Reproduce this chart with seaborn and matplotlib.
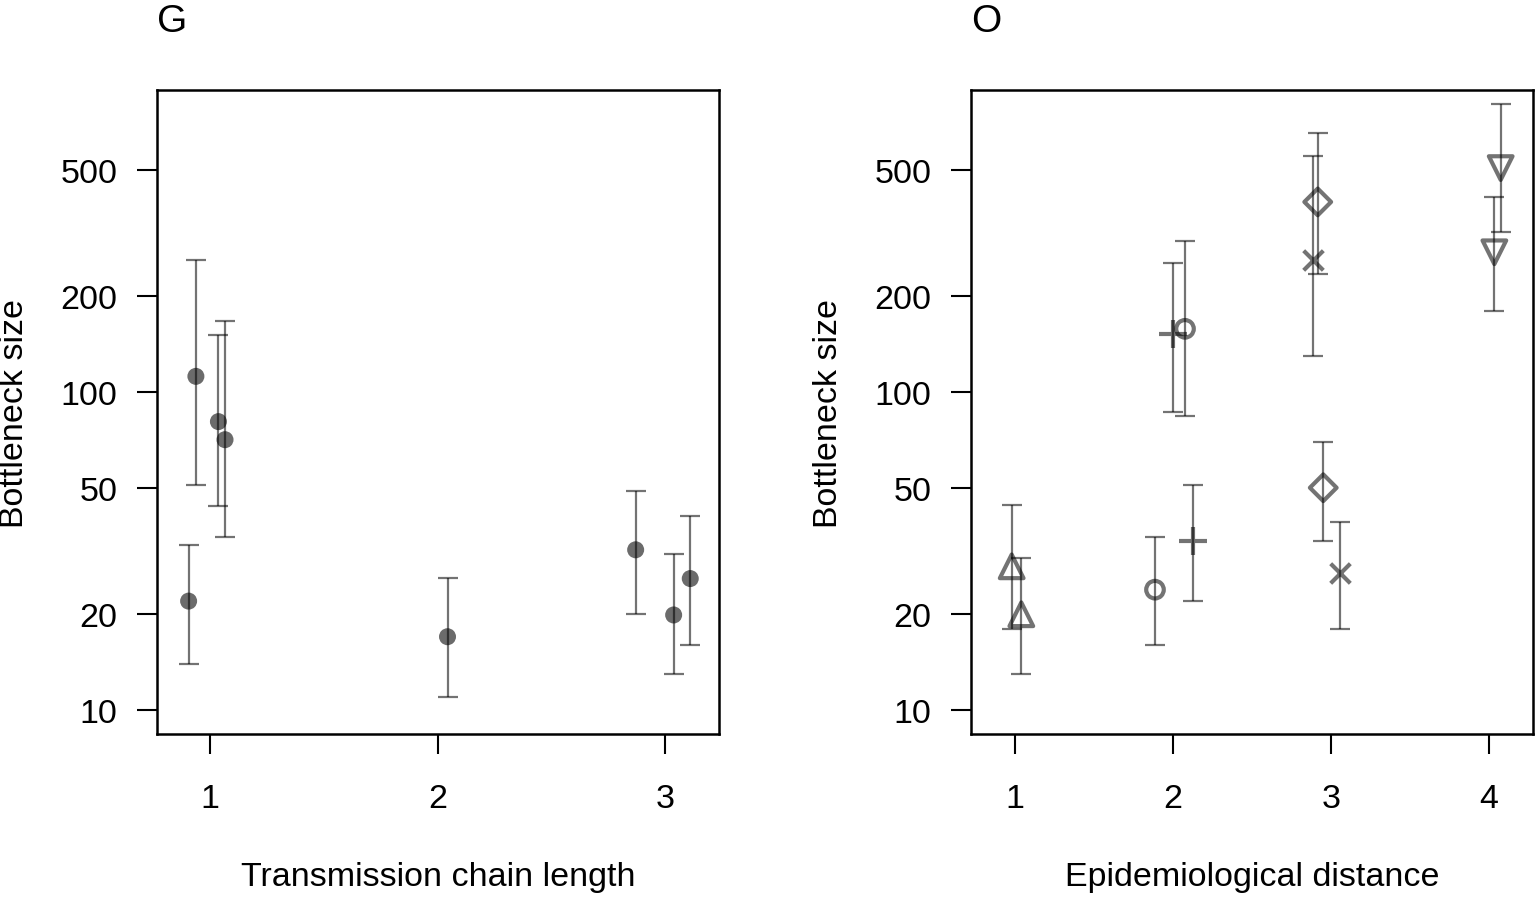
import numpy as np
import pandas as pd
import matplotlib
matplotlib.use("Agg")
import matplotlib.pyplot as plt
import seaborn as sns
from matplotlib.ticker import FixedLocator, FixedFormatter, NullLocator

# ---- Panel G data ----
g_x = [0.906, 0.938, 1.037, 1.066, 2.044, 2.871, 3.038, 3.111]
g_y = [22.0, 112.0, 80.7, 70.8, 17.0, 31.9, 19.9, 25.9]
g_lo = [14.0, 51.0, 43.9, 34.9, 11.0, 20.0, 13.0, 16.0]
g_hi = [33.0, 260.0, 151.0, 167.0, 26.0, 48.9, 30.9, 40.8]

# ---- Panel O data ----
o_x = [0.979, 1.040, 1.886, 2.076, 1.998, 2.129, 2.884, 3.059, 2.916, 2.951, 4.074, 4.034]
o_y = [28.3, 20.0, 23.9, 158.0, 152.0, 34.0, 260.0, 27.0, 396.0, 50.0, 506.0, 275.0]
o_lo = [18.0, 13.0, 16.0, 83.8, 86.7, 22.0, 129.7, 18.0, 234.5, 33.9, 318.0, 180.0]
o_hi = [44.2, 30.0, 34.9, 298.0, 255.0, 51.0, 551.0, 38.9, 653.0, 69.8, 805.0, 410.0]
o_group = ["tri", "tri", "circ", "circ", "plus", "plus", "cross", "cross",
           "diam", "diam", "dtri", "dtri"]

y_ticks = [10, 20, 50, 100, 200, 500]
y_ticklabels = ["10", "20", "50", "100", "200", "500"]
g_xticks = [1, 2, 3]
o_xticks = [1, 2, 3, 4]

sns.set_style("white")
plt.rcParams["font.family"] = ["Liberation Sans", "DejaVu Sans"]
for k in ["text.color", "axes.labelcolor", "xtick.color", "ytick.color", "axes.edgecolor"]:
    plt.rcParams[k] = "black"

W, H = 1538, 904
fig = plt.figure(figsize=(W / 100, H / 100), dpi=100)

def axes_rect(x0, y0, x1, y1):
    return [x0 / W, 1 - y1 / H, (x1 - x0) / W, (y1 - y0) / H]

ax1 = fig.add_axes(axes_rect(157, 91, 719, 735))
ax2 = fig.add_axes(axes_rect(971, 91, 1533, 735))

ylo = 10 ** (1 - 24 / 318)
yhi = 10 ** (1 + 620 / 318)

bar_kw = dict(fmt="none", ecolor=(0, 0, 0, 0.55), elinewidth=1.6, capsize=7.5, capthick=1.6)
mcol = (0, 0, 0, 0.58)
FS = 24.5

def style_axes(ax, xticks, xlim, xlabel, title, title_x):
    ax.set_yscale("log")
    ax.set_ylim(ylo, yhi)
    ax.set_xlim(*xlim)
    ax.yaxis.set_major_locator(FixedLocator(y_ticks))
    ax.yaxis.set_major_formatter(FixedFormatter(y_ticklabels))
    ax.yaxis.set_minor_locator(NullLocator())
    ax.set_xticks(xticks)
    ax.set_xticklabels([str(t) for t in xticks])
    ax.tick_params(axis="y", direction="out", length=14.4, width=1.5, pad=14, labelsize=FS,
                   left=True, colors="black")
    ax.tick_params(axis="x", direction="out", length=14.4, width=1.5, pad=21, labelsize=FS,
                   bottom=True, colors="black")
    for s in ax.spines.values():
        s.set_visible(True)
        s.set_color("black")
        s.set_linewidth(1.8)
    ax.set_xlabel(xlabel, fontsize=FS, color="black")
    ax.xaxis.set_label_coords(0.5, -0.222)
    ax.xaxis.label.set_va("center")
    ax.set_ylabel("Bottleneck size", fontsize=FS, color="black")
    ax.yaxis.set_label_coords(-0.2527, 0.5)
    ax.yaxis.label.set_va("center")
    fig.text(title_x / W, 1 - 22 / H, title, fontsize=28, ha="left", va="center",
             color="black")

# Panel G
ax1.errorbar(g_x, g_y, yerr=[np.array(g_y) - np.array(g_lo), np.array(g_hi) - np.array(g_y)],
             **bar_kw)
sns.scatterplot(x=g_x, y=g_y, ax=ax1, marker="o", s=150, color=mcol, edgecolor="none",
                linewidth=0, legend=False)
style_axes(ax1, g_xticks, (1 - 53 / 227.5, 3 + 54 / 227.5), "Transmission chain length",
           "G", 157)

# Panel O
df = pd.DataFrame({"x": o_x, "y": o_y, "lo": o_lo, "hi": o_hi, "g": o_group})
ax2.errorbar(df["x"], df["y"], yerr=[df["y"] - df["lo"], df["hi"] - df["y"]], **bar_kw)
mstyle = {"tri": ("^", 290, True), "circ": ("o", 160, True), "plus": ("+", 380, False),
          "cross": ("x", 200, False), "diam": ("D", 185, True), "dtri": ("v", 290, True)}
ocol = (0, 0, 0, 0.55)
for key, (m, s, filled) in mstyle.items():
    sub = df[df["g"] == key]
    if filled:
        sns.scatterplot(data=sub, x="x", y="y", ax=ax2, marker=m, s=s, facecolor="none",
                        edgecolor=ocol, linewidth=3.0, legend=False)
    else:
        sns.scatterplot(data=sub, x="x", y="y", ax=ax2, marker=m, s=s, color=ocol,
                        linewidth=3.0, legend=False)
style_axes(ax2, o_xticks, (1 - 44 / 158, 4 + 44 / 158), "Epidemiological distance", "O", 971)

fig.savefig("out.png", dpi=100)
